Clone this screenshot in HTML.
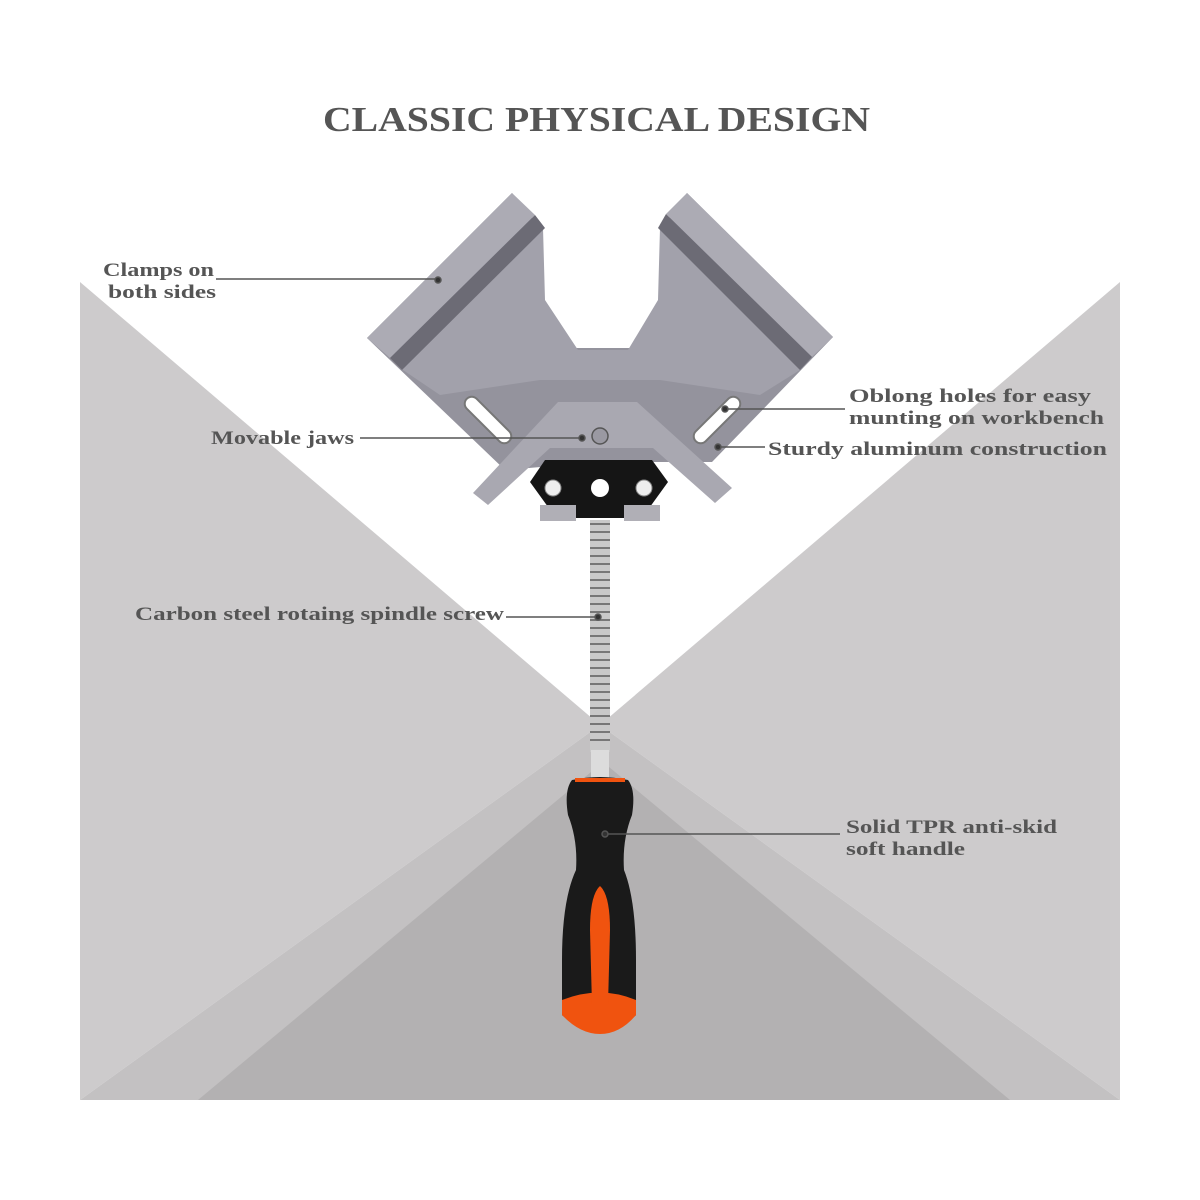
<!DOCTYPE html>
<html><head><meta charset="utf-8"><style>html,body{margin:0;padding:0;background:#fff}svg{display:block}</style></head>
<body>
<svg width="1200" height="1200" viewBox="0 0 1200 1200" xmlns="http://www.w3.org/2000/svg" font-family="'Liberation Serif',serif" font-weight="bold">
<rect width="1200" height="1200" fill="#fff"/>
<!-- background -->
<polygon points="80,282 600,725 80,1100" fill="#cdcbcc"/>
<polygon points="1120,282 600,725 1120,1100" fill="#cdcbcc"/>
<polygon points="600,725 80,1100 1120,1100" fill="#c3c1c2"/>
<polygon points="603,762 198,1100 1010,1100" fill="#b3b1b2"/>
<!-- title -->
<text x="323" y="131" font-size="35" fill="#555" textLength="547" lengthAdjust="spacingAndGlyphs">CLASSIC PHYSICAL DESIGN</text>
<!-- clamp body -->
<polygon points="367,338 512,193 540,228 542,300 575,348 630,348 660,300 662,228 687,193 833,337 712,462 600,462 505,470" fill="#94939d"/>
<polygon points="400,368 543,228 545,300 578,350 628,350 658,300 660,228 800,370 760,395 660,380 540,380 440,395" fill="#a2a1ab"/>
<polygon points="367,338 512,193 535,215 390,358" fill="#acabb4"/>
<polygon points="390,358 535,215 545,228 402,370" fill="#6c6b75"/>
<polygon points="687,193 833,337 812,357 666,214" fill="#acabb4"/>
<polygon points="666,214 812,357 800,370 658,228" fill="#6c6b75"/>
<g transform="rotate(45 488 420)"><rect x="458" y="413" width="60" height="14" rx="7" fill="#fff" stroke="#777" stroke-width="2"/></g>
<g transform="rotate(-45 717 420)"><rect x="687" y="413" width="60" height="14" rx="7" fill="#fff" stroke="#777" stroke-width="2"/></g>
<!-- movable jaw -->
<polygon points="545,460 652,460 668,482 642,518 556,518 530,482" fill="#151515"/>
<rect x="540" y="505" width="36" height="16" fill="#b0afb6"/>
<rect x="624" y="505" width="36" height="16" fill="#b0afb6"/>
<polygon points="473,493 558,402 637,402 732,488 715,503 653,448 550,448 488,505" fill="#a9a8b1"/>
<circle cx="600" cy="436" r="8" fill="#9a99a2" stroke="#555" stroke-width="1.5"/>
<circle cx="553" cy="488" r="8" fill="#eee" stroke="#888"/>
<circle cx="644" cy="488" r="8" fill="#eee" stroke="#888"/>
<circle cx="600" cy="488" r="9" fill="#fff"/>
<!-- spring -->
<rect x="590" y="520" width="20" height="232" fill="#c9c9c9"/>
<g stroke="#777" stroke-width="2">
<path d="M590 524 h20 M590 532 h20 M590 540 h20 M590 548 h20 M590 556 h20 M590 564 h20 M590 572 h20 M590 580 h20 M590 588 h20 M590 596 h20 M590 604 h20 M590 612 h20 M590 620 h20 M590 628 h20 M590 636 h20 M590 644 h20 M590 652 h20 M590 660 h20 M590 668 h20 M590 676 h20 M590 684 h20 M590 692 h20 M590 700 h20 M590 708 h20 M590 716 h20 M590 724 h20 M590 732 h20 M590 740 h20"/>
</g>
<rect x="591" y="750" width="18" height="30" fill="#dcdcdc"/>
<!-- handle -->
<path d="M572,780 Q600,774 628,780 Q636,790 632,815 Q622,840 624,870 Q636,900 636,960 L636,1015 Q620,1030 600,1030 Q580,1030 562,1015 L562,960 Q562,900 576,870 Q578,840 568,815 Q564,790 572,780Z" fill="#1a1a1a"/>
<path d="M562,1000 Q600,985 636,1000 L636,1015 Q620,1034 600,1034 Q580,1034 562,1015Z" fill="#f0530f"/>
<path d="M600,886 Q610,895 610,930 L608,1005 L592,1005 L590,930 Q590,895 600,886Z" fill="#f0530f"/>
<rect x="575" y="778" width="50" height="4" fill="#f0530f"/>
<!-- leader lines -->
<g stroke="#555" stroke-width="1.5" fill="#333">
<line x1="216" y1="279" x2="438" y2="279"/><circle cx="438" cy="280" r="3"/>
<line x1="725" y1="409" x2="845" y2="409"/><circle cx="725" cy="409" r="3"/>
<line x1="360" y1="438" x2="582" y2="438"/><circle cx="582" cy="438" r="3"/>
<line x1="718" y1="447" x2="765" y2="447"/><circle cx="718" cy="447" r="3"/>
<line x1="506" y1="617" x2="598" y2="617"/><circle cx="598" cy="617" r="3"/>
<line x1="605" y1="834" x2="840" y2="834"/><circle cx="605" cy="834" r="3"/>
</g>
<g font-size="19" fill="#555">
<text x="103" y="276" textLength="111" lengthAdjust="spacingAndGlyphs">Clamps on</text>
<text x="108" y="298" textLength="108" lengthAdjust="spacingAndGlyphs">both sides</text>
<text x="849" y="402" textLength="242" lengthAdjust="spacingAndGlyphs">Oblong holes for easy</text>
<text x="849" y="424" textLength="255" lengthAdjust="spacingAndGlyphs">munting on workbench</text>
<text x="211" y="444" textLength="143" lengthAdjust="spacingAndGlyphs">Movable jaws</text>
<text x="768" y="455" textLength="339" lengthAdjust="spacingAndGlyphs">Sturdy aluminum construction</text>
<text x="135" y="620" textLength="369" lengthAdjust="spacingAndGlyphs">Carbon steel rotaing spindle screw</text>
<text x="846" y="833" textLength="211" lengthAdjust="spacingAndGlyphs">Solid TPR anti-skid</text>
<text x="846" y="855" textLength="119" lengthAdjust="spacingAndGlyphs">soft handle</text>
</g>
</svg>
</body></html>
